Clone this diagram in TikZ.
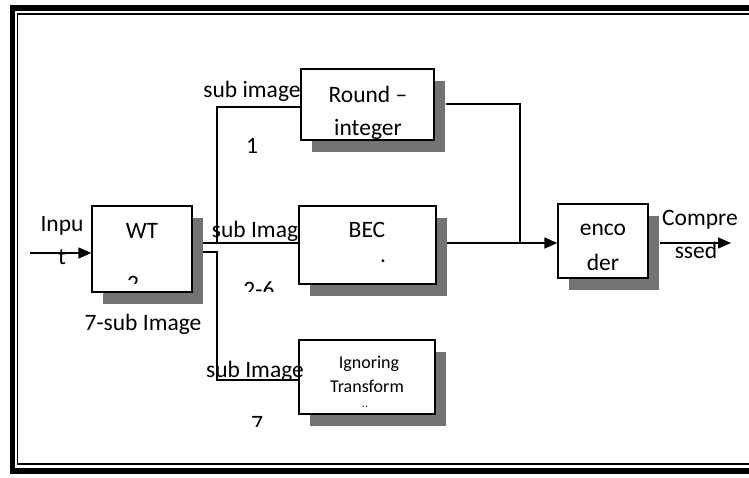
\documentclass[tikz,border=0pt]{standalone}
\usepackage{fontspec}
\setmainfont{Carlito}
\usetikzlibrary{arrows.meta,shadows}
\definecolor{shadowgray}{gray}{0.45}
\tikzset{
  blk/.style={draw=black, line width=1.3pt, fill=white, inner sep=0pt,
    general shadow={fill=shadowgray, shadow xshift=11pt, shadow yshift=-12pt}},
  conn/.style={line width=1.5pt},
  arr/.style={conn, -{Triangle[length=13pt,width=11pt]}},
  txt/.style={anchor=base, inner sep=0pt, font=\fontsize{23.5}{28}\selectfont},
  stxt/.style={anchor=base, inner sep=0pt, font=\fontsize{18}{22}\selectfont},
}
\begin{document}
\begin{tikzpicture}[x=1pt,y=-1pt]
\useasboundingbox (0,0) rectangle (749,477);
% frame
\draw[line width=5.5pt] (12.5,8) rectangle (770,471);
\draw[line width=1.2pt] (17.5,14) rectangle (770,464);

% blocks
\node[blk, minimum width=100pt, minimum height=86pt] (wt) at (142,249) {};
\node[blk, minimum width=133pt, minimum height=71pt] (rnd) at (367.5,104.5) {};
\node[blk, minimum width=137pt, minimum height=78pt] (bec) at (367.5,245) {};
\node[blk, minimum width=136pt, minimum height=74pt] (ign) at (367,377) {};
\node[blk, minimum width=90pt, minimum height=74pt] (enc) at (603,241) {};

% coordinates
\coordinate (in) at (30,253);
\coordinate (out) at (731,243);
\coordinate (wtA) at (203,243);
\coordinate (wtB) at (203,252);
\coordinate (bA) at (217,243);
\coordinate (bB) at (217,252);
\coordinate (up) at (217,107);
\coordinate (lo) at (217,380);
\coordinate (rndO) at (446,104);
\coordinate (jn) at (520,104);
\coordinate (becO) at (447,243);
\coordinate (encO) at (660,243);

% connectors
\draw[arr] (in) -- (in -| wt.west);
\draw[conn] (wtA) -- (wtA -| bec.west);
\draw[conn] (bA) -- (up) -- (up -| rnd.west);
\draw[conn] (wtB) -- (bB) -- (lo) -- (lo -| ign.west);
\draw[conn] (rndO) -- (jn) -- (jn |- becO);
\draw[arr] (becO) -- (becO -| enc.west);
\draw[arr] (encO) -- (out);

% block texts
\node[txt] (twt) at (142,238) {WT};
\begin{scope}
\clip (100,200) rectangle (185,283);
\node[txt] (twt2) at (133,291) {2};
\end{scope}
\begin{scope}
\clip (rnd.south west) rectangle (rnd.north east);
\node[txt] (tr1) at (368,102) {Round –};
\node[txt] (tr2) at (368,135) {integer};
\end{scope}
\node[txt] (tbec) at (367,237) {BEC};
\node[txt] (tdot) at (383,262) {.};
\node[stxt] (tig1) at (369,368) {Ignoring};
\node[stxt] (tig2) at (367,392) {Transform};
\node[stxt, font=\fontsize{12}{14}\selectfont] (tig3) at (365,407) {..};
\node[txt] (ten1) at (603,235) {enco};
\node[txt] (ten2) at (603,270) {der};

% other labels
\node[txt] (tin1) at (62,231) {Inpu};
\node[txt] (tin2) at (62,264) {t};
\node[txt] (ts1) at (252,97) {sub image};
\node[txt] (tn1) at (252,153) {1};
\node[txt] (ts2) at (255,237) {sub Imag};
\begin{scope}
\clip (230,270) rectangle (290,291);
\node[txt] (tn2) at (259,297) {2-6};
\end{scope}
\node[txt] (t7s) at (143,330) {7-sub Image};
\node[txt] (ts3) at (255,377) {sub Image};
\begin{scope}
\clip (240,405) rectangle (275,426);
\node[txt] (tn3) at (257,431) {7};
\end{scope}
\node[txt] (tc1) at (700,225) {Compre};
\node[txt] (tc2) at (696,258) {ssed};
\end{tikzpicture}
\end{document}
